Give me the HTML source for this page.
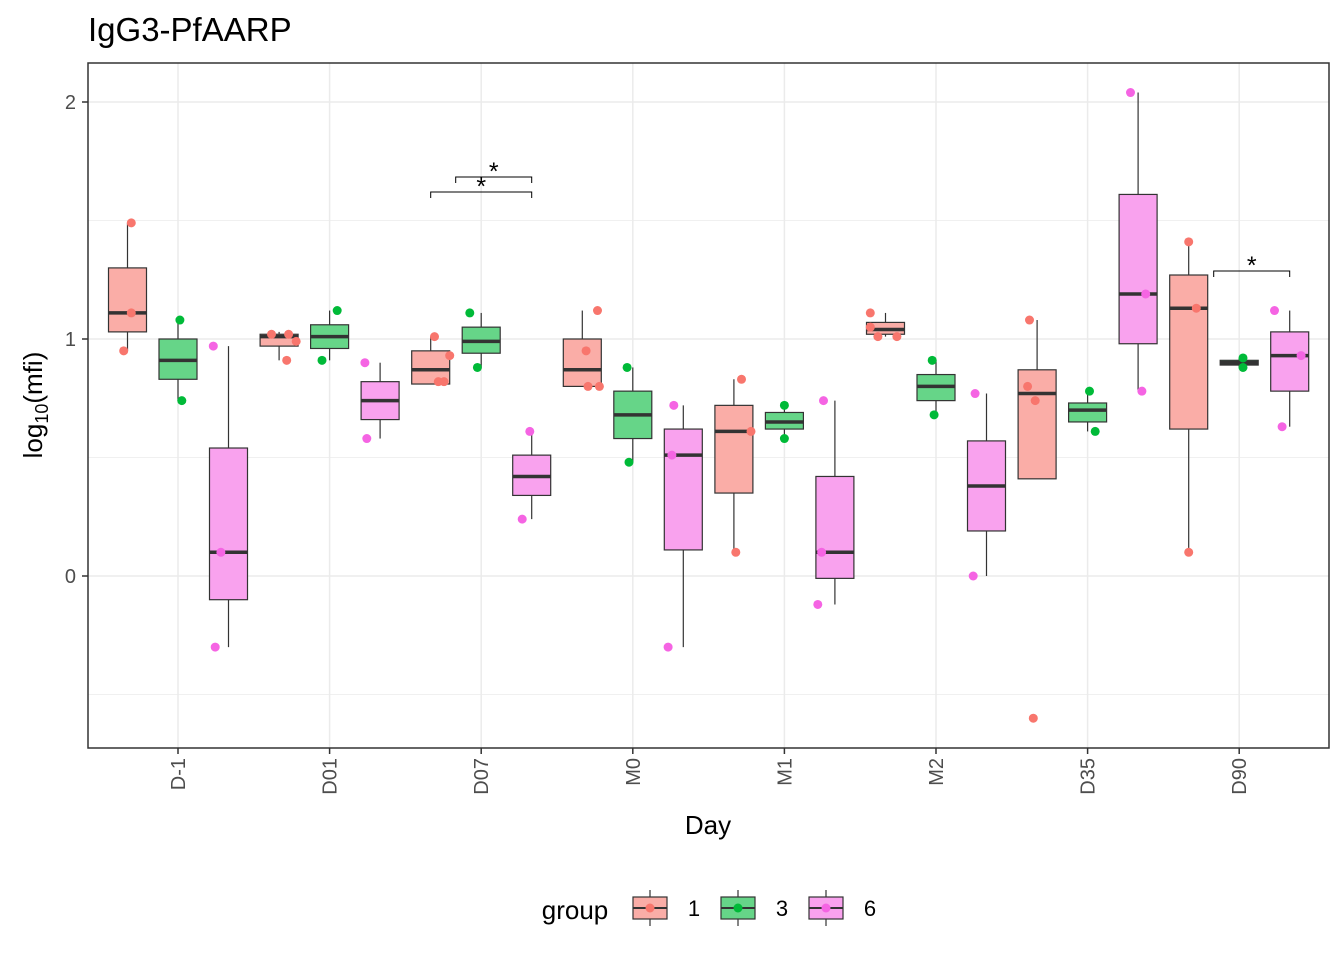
<!DOCTYPE html>
<html><head><meta charset="utf-8"><style>
body{margin:0;background:#fff;}
svg text{font-family:"Liberation Sans",Arial,sans-serif;}
</style></head><body>
<svg id="chart" width="1344" height="960" xmlns="http://www.w3.org/2000/svg">
<rect x="0" y="0" width="1344" height="960" fill="#fff"/>
<text x="88" y="41" font-size="33" fill="#000">IgG3-PfAARP</text>
<g id="grid"></g>
<g id="marks"></g>
<rect x="88" y="63" width="1241" height="685" fill="none" stroke="#333" stroke-width="1.5"/>
<g id="axes"></g>
<text x="708" y="834" font-size="26" text-anchor="middle">Day</text>
<text transform="translate(42,405) rotate(-90)" font-size="26" text-anchor="middle">log<tspan font-size="18" dy="6">10</tspan><tspan dy="-6">(mfi)</tspan></text>
<g id="legend">
<text x="575" y="919" font-size="26" text-anchor="middle">group</text>
</g>
</svg>
<script>
const categories=["D-1","D01","D07","M0","M1","M2","D35","D90"];
const groups=["1","3","6"];
const yTicks=[0,1,2];
const yMinor=[-0.5,0.5,1.5];
// per category, per group: [lowWhisker, q1, median, q3, highWhisker]
const stats1=[[0.95,1.03,1.11,1.30,1.49],[0.91,0.97,1.01,1.02,1.03],[0.81,0.81,0.87,0.95,1.01],[0.80,0.80,0.87,1.00,1.12],[0.10,0.35,0.61,0.72,0.83],[1.01,1.02,1.04,1.07,1.11],[0.41,0.41,0.77,0.87,1.08],[0.10,0.62,1.13,1.27,1.41]];
const stats3=[[0.74,0.83,0.91,1.00,1.08],[0.91,0.96,1.01,1.06,1.12],[0.88,0.94,0.99,1.05,1.11],[0.48,0.58,0.68,0.78,0.88],[0.58,0.62,0.65,0.69,0.72],[0.68,0.74,0.80,0.85,0.91],[0.61,0.65,0.70,0.73,0.78],[0.88,0.89,0.90,0.91,0.92]];
const stats6=[[-0.30,-0.10,0.10,0.54,0.97],[0.58,0.66,0.74,0.82,0.90],[0.24,0.34,0.42,0.51,0.61],[-0.30,0.11,0.51,0.62,0.72],[-0.12,-0.01,0.10,0.42,0.74],[0.00,0.19,0.38,0.57,0.77],[0.78,0.98,1.19,1.61,2.04],[0.63,0.78,0.93,1.03,1.12]];
const points1=[[1.49,1.11,0.95],[0.91,1.02,1.02,0.99],[1.01,0.93,0.82,0.82],[1.12,0.95,0.80,0.80],[0.83,0.61,0.10],[1.11,1.05,1.01,1.01],[1.08,0.80,0.74,-0.60],[1.41,1.13,0.10]];
const points3=[[1.08,0.74],[1.12,0.91],[1.11,0.88],[0.88,0.48],[0.72,0.58],[0.91,0.68],[0.78,0.61],[0.92,0.88]];
const points6=[[0.97,0.10,-0.30],[0.90,0.58],[0.61,0.24],[0.72,0.51,-0.30],[0.74,0.10,-0.12],[0.77,0.00],[2.04,1.19,0.78],[1.12,0.93,0.63]];
const jitter1=[[0.1,0.1,-0.1],[0.2,0.25,-0.2,0.45],[0.1,0.5,0.2,0.35],[0.4,0.1,0.15,0.45],[0.2,0.45,0.05],[-0.4,-0.4,-0.2,0.3],[-0.2,-0.25,-0.05,-0.1],[0,0.2,0]];
const jitter3=[[0.05,0.1],[0.2,-0.2],[-0.3,-0.1],[-0.15,-0.1],[0,0],[-0.1,-0.05],[0.05,0.2],[0.1,0.1]];
const jitter6=[[-0.4,-0.2,-0.35],[-0.4,-0.35],[-0.05,-0.25],[-0.25,-0.3,-0.4],[-0.3,-0.35,-0.45],[-0.3,-0.35],[-0.2,0.2,0.1],[-0.4,0.3,-0.2]];
const fills=["#FAADA7","#66D588","#F9A2EE"];
const cols=["#F8766D","#00BA38","#F564E3"];
const NS="http://www.w3.org/2000/svg";
const X0=178,DX=151.6,OFF=50.5,BW=38;
function y(v){return 576-237*v;}
function x(i,g){return X0+i*DX+(g-1)*OFF;}
function mk(t,a,p){const e=document.createElementNS(NS,t);for(const k in a)e.setAttribute(k,a[k]);p.appendChild(e);return e;}
const grid=document.getElementById('grid'),marks=document.getElementById('marks'),axes=document.getElementById('axes');
yMinor.forEach(v=>{const l=mk('line',{x1:88,x2:1329,y1:y(v),y2:y(v),stroke:'#f0f0f0','stroke-width':1},grid);
});
yTicks.forEach(v=>{const l=mk('line',{x1:88,x2:1329,y1:y(v),y2:y(v),stroke:'#ebebeb','stroke-width':1.5},grid);

const t=mk('line',{x1:82,x2:88,y1:y(v),y2:y(v),stroke:'#333','stroke-width':1.5},axes);

const tx=mk('text',{x:76,y:y(v)+7,'font-size':20,'text-anchor':'end',fill:'#4d4d4d'},axes);tx.textContent=v;
});
categories.forEach((c,i)=>{const cx=x(i,1);
const l=mk('line',{x1:cx,x2:cx,y1:63,y2:748,stroke:'#ebebeb','stroke-width':1.5},grid);

const t=mk('line',{x1:cx,x2:cx,y1:748,y2:754,stroke:'#333','stroke-width':1.5},axes);

const tx=mk('text',{transform:`translate(${cx+7},758) rotate(-90)`,'font-size':20,'text-anchor':'end',fill:'#4d4d4d'},axes);tx.textContent=c;
});
const allStats=[stats1,stats3,stats6],allPts=[points1,points3,points6],allJit=[jitter1,jitter3,jitter6];
categories.forEach((c,i)=>{for(let g=0;g<3;g++){const s=allStats[g][i],cx=x(i,g);
const w=mk('line',{x1:cx,x2:cx,y1:y(s[0]),y2:y(s[4]),stroke:'#333','stroke-width':1.2},marks);

const b=mk('rect',{x:cx-BW/2,y:y(s[3]),width:BW,height:y(s[1])-y(s[3]),fill:fills[g],stroke:'#333','stroke-width':1.2},marks);

const m=mk('line',{x1:cx-BW/2,x2:cx+BW/2,y1:y(s[2]),y2:y(s[2]),stroke:'#333','stroke-width':3.5},marks);

allPts[g][i].forEach((v,k)=>{const p=mk('circle',{cx:cx+allJit[g][i][k]*BW,cy:y(v),r:4.5,fill:cols[g]},marks);
});}});
function bracket(x1,x2,yy){const p=mk('path',{d:`M${x1},${yy+6}V${yy}H${x2}V${yy+6}`,fill:'none',stroke:'#000','stroke-width':1},marks);

const t=mk('text',{x:(x1+x2)/2,y:yy+3,'font-size':25,'text-anchor':'middle'},marks);t.textContent='*';
}
bracket(x(2,0),x(2,2),192);bracket(x(2,0)+25,x(2,2),177);bracket(x(7,0)+25,x(7,2),271);
const lg=document.getElementById('legend');
[633,721,809].forEach((lx,g)=>{
const k=mk('g',{},lg);
mk('line',{x1:lx+17,x2:lx+17,y1:890,y2:926,stroke:'#333','stroke-width':1.2},k);
mk('rect',{x:lx,y:897,width:34,height:22,fill:fills[g],stroke:'#333','stroke-width':1.2},k);
mk('line',{x1:lx,x2:lx+34,y1:908,y2:908,stroke:'#333','stroke-width':2},k);
mk('circle',{cx:lx+17,cy:908,r:4.5,fill:cols[g]},k);
const t=mk('text',{x:lx+61,y:916,'font-size':22,'text-anchor':'middle'},k);t.textContent=groups[g];});
</script>
</body></html>
